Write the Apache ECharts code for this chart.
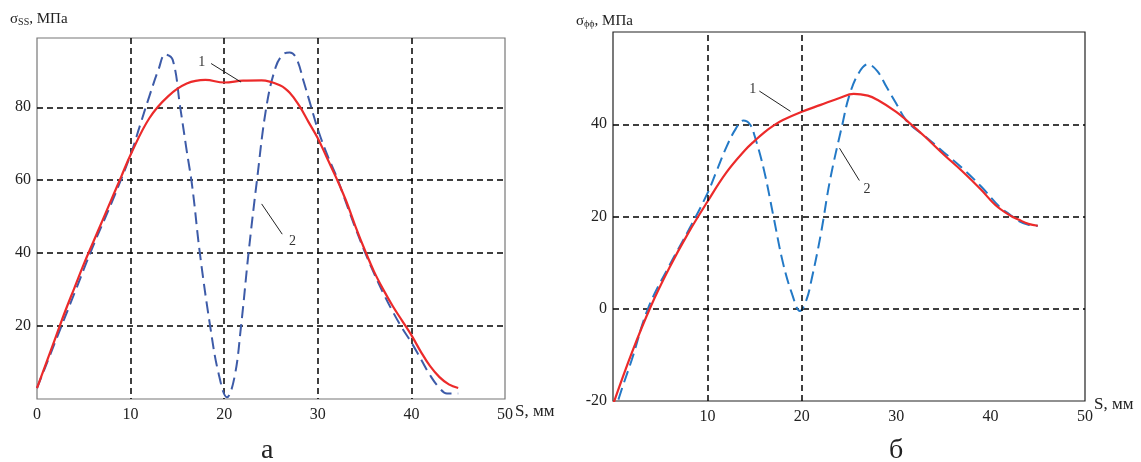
<!DOCTYPE html>
<html>
<head>
<meta charset="utf-8">
<script src="https://cdn.jsdelivr.net/npm/echarts@6/dist/echarts.min.js"></script>
<style>
  html, body { margin: 0; padding: 0; background: #fff; }
  #chart { width: 1141px; height: 462px; }
</style>
</head>
<body>
<div id="chart"></div>
<script>
// left panel (а): sigma_SS, curve 1 (solid red) and curve 2 (dashed blue)
const leftS1 = [0, 1, 2, 3, 4, 5, 6, 7, 8, 9, 10, 12, 14, 16, 18, 20, 22, 24, 26, 27, 28, 29, 30, 31, 32, 33, 34, 35, 36, 37, 38, 39, 40, 41, 42, 43, 44, 45];
const leftV1 = [3, 10, 17, 24, 30.5, 37, 43, 49, 55, 61, 67, 77, 83, 86.5, 87.5, 86.8, 87.3, 87.4, 86, 84, 80.5, 76, 71.5, 66, 60.5, 54.5, 47.5, 41, 35, 30, 25.5, 21.5, 17.5, 13, 9, 6, 4, 3];
const leftS2 = [0, 2, 4, 6, 8, 10, 11, 12, 13, 13.7, 14.5, 15.3, 16, 16.6, 17.4, 18.5, 19.4, 20.3, 21.1, 21.8, 22.6, 23.5, 24.5, 25.5, 26.3, 27, 27.7, 28.5, 29.3, 30, 31, 32, 33, 34, 35, 36, 37, 38, 39, 40, 41, 42, 43, 43.8, 45];
const leftV2 = [3, 16, 29, 42, 54, 67, 75, 83, 90.5, 94.5, 93, 80, 68, 58, 40, 20, 7, 0.5, 6, 20, 40, 60, 80, 91, 94.5, 95, 93.5, 87, 80, 74, 67, 61, 54, 47, 40.5, 34.5, 29, 24, 19.5, 15.5, 11, 6.5, 3, 1.5, 1.5];

// right panel (б): sigma_phiphi
const rightS1 = [0, 2, 4, 6, 8, 10, 12, 14, 15, 16, 17, 18, 20, 22, 24, 25.5, 27, 28, 30, 31, 33, 35, 37, 39, 40.5, 42, 43, 44, 45];
const rightV1 = [-20.8, -9.5, 0.5, 9, 16.5, 23.2, 29.5, 34.4, 36.4, 38.2, 39.7, 40.9, 42.7, 44.2, 45.7, 46.6, 46.2, 45.3, 42.7, 41, 37.4, 33.5, 29.8, 25.8, 22.5, 20.3, 19.3, 18.4, 18];
const rightS2 = [0, 1, 2, 3.7, 6, 8, 10, 11, 12, 13, 13.8, 14.5, 15, 16, 17, 18, 19, 19.8, 20.5, 21, 22, 23, 24.3, 25, 26, 27, 28, 29, 30, 31, 32, 33, 35, 37, 39, 41, 42, 43, 44, 45];
const rightV2 = [-23.4, -17, -11, 0, 9.5, 17, 25, 30, 35, 39, 40.8, 40, 37.5, 30, 20, 10, 3, -0.5, 2, 6, 16, 28, 40, 46, 51, 53, 51.5, 48, 44.5, 41, 39, 37.5, 34, 30.5, 26.5, 22, 20.5, 19, 18.2, 18];

const rightGridX = [10, 20];

// curve number labels and their leader lines [text, textPos, lineStart, lineEnd]
const leftNotes = [
  ['1', [17.6, 92.3], [18.6, 92.0], [21.8, 86.9]],
  ['2', [27.3, 43.2], [24.0, 53.5], [26.2, 45.2]]
];
const rightNotes = [
  ['1', [14.8, 47.6], [15.5, 47.2], [18.8, 42.8]],
  ['2', [26.9, 25.8], [24.0, 34.8], [26.1, 27.8]]
];

const zip = (xs, ys) => xs.map((x, i) => [x, ys[i]]);

const serif = 'Liberation Serif';
const red = '#ec2a2a';
const blueL = '#3d5ba8';
const blueR = '#2379c6';

function notes(list) {
  return {
    markLine: {
      silent: true,
      symbol: 'none',
      label: {show: false},
      lineStyle: {color: '#222', width: 1, type: 'solid'},
      data: list.map(n => [{coord: n[2]}, {coord: n[3]}])
    },
    markPoint: {
      silent: true,
      symbol: 'circle',
      symbolSize: 0,
      label: {
        show: true,
        position: 'inside',
        formatter: '{b}',
        fontFamily: serif,
        fontSize: 14,
        color: '#333'
      },
      data: list.map(n => ({name: n[0], coord: n[1]}))
    }
  };
}

const axisLabel = {fontFamily: serif, fontSize: 16, color: '#222'};
const split = {show: true, showMinLine: false, showMaxLine: false, lineStyle: {color: '#000', width: 1.5, type: [6, 4]}};
const titleRich = {
  a: {fontFamily: serif, fontSize: 15, fill: '#222'},
  b: {fontFamily: serif, fontSize: 10, fill: '#222', padding: [6, 0, 0, 0]}
};

const chart = echarts.init(document.getElementById('chart'));
chart.setOption({
  animation: false,
  backgroundColor: '#fff',
  title: [
    {text: 'а', left: 256, top: 432, textStyle: {fontFamily: serif, fontSize: 28, fontWeight: 'normal', color: '#222'}},
    {text: 'б', left: 884, top: 432, textStyle: {fontFamily: serif, fontSize: 28, fontWeight: 'normal', color: '#222'}}
  ],
  graphic: [
    {type: 'text', left: 10, top: 12, style: {text: '{a|σ}{b|SS}{a|, МПа}', rich: titleRich}},
    {type: 'text', left: 576, top: 14, style: {text: '{a|σ}{b|ϕϕ}{a|, МПа}', rich: titleRich}},
    {type: 'text', left: 515, top: 403, style: {text: 'S, мм', font: '17px "Liberation Serif"', fill: '#222'}},
    {type: 'text', left: 1094, top: 396, style: {text: 'S, мм', font: '17px "Liberation Serif"', fill: '#222'}}
  ],
  grid: [
    {left: 37, right: 636, top: 38, bottom: 63, show: true, borderColor: '#777', borderWidth: 1.2, containLabel: false},
    {left: 613, right: 56, top: 32, bottom: 61, show: true, borderColor: '#222', borderWidth: 1.2, containLabel: false}
  ],
  xAxis: [
    {
      gridIndex: 0, type: 'value', min: 0, max: 50, interval: 10,
      axisLine: {show: false, onZero: false}, axisTick: {show: false},
      axisLabel: Object.assign({margin: 8}, axisLabel),
      splitLine: split
    },
    {
      gridIndex: 1, type: 'value', min: 0, max: 50, interval: 10,
      axisLine: {show: false, onZero: false}, axisTick: {show: false},
      axisLabel: Object.assign({margin: 8, showMinLabel: false}, axisLabel),
      splitLine: {show: false}
    }
  ],
  yAxis: [
    {
      gridIndex: 0, type: 'value', min: 0, max: 99, interval: 20,
      axisLine: {show: false, onZero: false}, axisTick: {show: false},
      axisLabel: Object.assign({margin: 6, showMinLabel: false, showMaxLabel: false}, axisLabel),
      splitLine: split
    },
    {
      gridIndex: 1, type: 'value', min: -20, max: 60, interval: 20,
      axisLine: {show: false, onZero: false}, axisTick: {show: false},
      axisLabel: Object.assign({margin: 6, showMaxLabel: false}, axisLabel),
      splitLine: split
    }
  ],
  series: [
    Object.assign({
      name: 'а-1', type: 'line', xAxisIndex: 0, yAxisIndex: 0, smooth: 0.4, symbol: 'none',
      lineStyle: {color: red, width: 2.2}, z: 3,
      data: zip(leftS1, leftV1)
    }, notes(leftNotes)),
    {
      name: 'а-2', type: 'line', xAxisIndex: 0, yAxisIndex: 0, smooth: 0.4, symbol: 'none',
      lineStyle: {color: blueL, width: 2, type: [12, 6]}, z: 2,
      data: zip(leftS2, leftV2)
    },
    Object.assign({
      name: 'б-1', type: 'line', xAxisIndex: 1, yAxisIndex: 1, smooth: 0.4, symbol: 'none',
      lineStyle: {color: red, width: 2.2}, z: 3,
      data: zip(rightS1, rightV1)
    }, notes(rightNotes)),
    {
      name: 'б-2', type: 'line', xAxisIndex: 1, yAxisIndex: 1, smooth: 0.4, symbol: 'none',
      lineStyle: {color: blueR, width: 2, type: [12, 6]}, z: 2,
      data: zip(rightS2, rightV2),
      markLine: {
        silent: true, symbol: 'none', label: {show: false},
        lineStyle: {color: '#000', width: 1.5, type: [6, 4]},
        data: rightGridX.map(x => ({xAxis: x}))
      }
    }
  ]
});
</script>
</body>
</html>
